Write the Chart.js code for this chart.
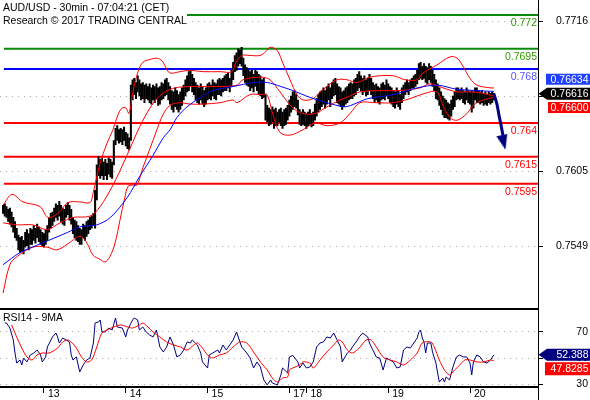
<!DOCTYPE html>
<html>
<head>
<meta charset="utf-8">
<script src="https://cdn.jsdelivr.net/npm/chart.js@4.4.1/dist/chart.umd.min.js"></script>
<style>
  body { margin: 0; background: #fff; width: 590px; height: 400px; overflow: hidden; position: relative; }
  #main { position: absolute; left: 0; top: 0; }
  #rsi { position: absolute; left: 0; top: 308px; }
</style>
</head>
<body>
<canvas id="main" width="590" height="309"></canvas>
<canvas id="rsi" width="590" height="92"></canvas>
<script>
const titleLines = ['AUD/USD - 30min - 07:04:21 (CET)', 'Research \u00a9 2017 TRADING CENTRAL'];
const rsiTitle = 'RSI14 - 9MA';

const dayTickIdx = [24, 72, 120, 168, 178, 226, 274];
const dayLabels = ['13', '14', '15', '17', '18', '19', '20'];
const priceTickVals = [0.754874, 0.760421, 0.765968, 0.771515];
const priceTickLabels = ['0.7549', '0.7605', '0.7661', '0.7716'];
const rsiTickVals = [30, 50, 70];
const rsiTickLabels = ['30', '50', '70'];

const levelVals = [0.772, 0.7695, 0.768, 0.764, 0.7615, 0.7595];
const levelLabels = ['0.772', '0.7695', '0.768', '0.764', '0.7615', '0.7595'];

// 30min bars, index 0 = first bar on screen
const barHigh = [
  0.7579,0.7580,0.7578,0.7576,0.7577,0.7574,0.7570,0.7567,0.7562,0.7557,0.7555,0.7556,
  0.7553,0.7559,0.7561,0.7558,0.7562,0.7561,0.7564,0.7562,0.7565,0.7563,0.7561,0.7559,
  0.7558,0.7561,0.7564,0.7570,0.7573,0.7574,0.7577,0.7580,0.7579,0.7582,0.7579,0.7577,
  0.7576,0.7579,0.7581,0.7579,0.7576,0.7570,0.7568,0.7567,0.7564,0.7562,0.7561,0.7565,
  0.7564,0.7567,0.7568,0.7570,0.7571,0.7573,0.7590,0.7609,0.7615,0.7613,0.7614,0.7611,
  0.7613,0.7610,0.7614,0.7613,0.7611,0.7627,0.7636,0.7638,0.7635,0.7636,0.7635,0.7637,
  0.7633,0.7632,0.7629,0.7668,0.7672,0.7673,0.7670,0.7675,0.7672,0.7669,0.7670,0.7668,
  0.7669,0.7667,0.7669,0.7666,0.7668,0.7667,0.7669,0.7666,0.7667,0.7670,0.7669,0.7672,
  0.7673,0.7670,0.7667,0.7664,0.7663,0.7666,0.7664,0.7661,0.7663,0.7666,0.7668,0.7672,
  0.7675,0.7678,0.7679,0.7676,0.7673,0.7670,0.7668,0.7666,0.7669,0.7667,0.7664,0.7666,
  0.7669,0.7670,0.7668,0.7672,0.7670,0.7669,0.7672,0.7673,0.7672,0.7673,0.7675,0.7676,
  0.7677,0.7673,0.7679,0.7685,0.7690,0.7692,0.7695,0.7694,0.7696,0.7688,0.7683,0.7681,
  0.7679,0.7678,0.7679,0.7676,0.7679,0.7678,0.7676,0.7675,0.7672,0.7673,0.7661,0.7653,
  0.7651,0.7650,0.7652,0.7650,0.7651,0.7648,0.7650,0.7651,0.7648,0.7650,0.7651,0.7653,
  0.7657,0.7660,0.7663,0.7664,0.7661,0.7657,0.7650,0.7648,0.7650,0.7648,0.7647,0.7648,
  0.7650,0.7647,0.7648,0.7654,0.7658,0.7661,0.7663,0.7664,0.7666,0.7664,0.7667,0.7669,
  0.7666,0.7670,0.7672,0.7673,0.7669,0.7667,0.7666,0.7663,0.7664,0.7666,0.7667,0.7669,
  0.7670,0.7669,0.7672,0.7673,0.7676,0.7678,0.7675,0.7673,0.7675,0.7672,0.7673,0.7676,
  0.7673,0.7670,0.7668,0.7669,0.7667,0.7666,0.7669,0.7670,0.7668,0.7672,0.7669,0.7667,
  0.7666,0.7664,0.7663,0.7666,0.7664,0.7661,0.7666,0.7668,0.7670,0.7672,0.7670,0.7672,
  0.7673,0.7675,0.7676,0.7679,0.7684,0.7685,0.7682,0.7684,0.7682,0.7681,0.7684,0.7682,
  0.7679,0.7676,0.7672,0.7669,0.7666,0.7663,0.7660,0.7658,0.7657,0.7655,0.7654,0.7657,
  0.7660,0.7663,0.7666,0.7666,0.7664,0.7666,0.7664,0.7663,0.7666,0.7664,0.7663,0.7664,
  0.7663,0.7666,0.7666,0.7664,0.7663,0.7664,0.7662,0.7663,0.7661,0.7663,0.7662,0.7663,0.7662
];
const barLow = [
  0.7573,0.7571,0.7570,0.7567,0.7565,0.7563,0.7559,0.7555,0.7553,0.7546,0.7544,0.7545,
  0.7543,0.7548,0.7549,0.7546,0.7550,0.7550,0.7553,0.7551,0.7555,0.7552,0.7550,0.7549,
  0.7548,0.7550,0.7553,0.7559,0.7562,0.7564,0.7567,0.7570,0.7568,0.7571,0.7567,0.7565,
  0.7564,0.7570,0.7572,0.7568,0.7565,0.7558,0.7555,0.7553,0.7552,0.7550,0.7550,0.7555,
  0.7553,0.7556,0.7558,0.7561,0.7562,0.7564,0.7562,0.7583,0.7601,0.7599,0.7601,0.7598,
  0.7601,0.7598,0.7602,0.7600,0.7599,0.7609,0.7624,0.7627,0.7625,0.7626,0.7624,0.7627,
  0.7623,0.7621,0.7620,0.7627,0.7657,0.7661,0.7658,0.7663,0.7660,0.7657,0.7658,0.7655,
  0.7658,0.7657,0.7655,0.7654,0.7657,0.7655,0.7658,0.7653,0.7654,0.7657,0.7658,0.7660,
  0.7661,0.7657,0.7654,0.7650,0.7648,0.7652,0.7650,0.7648,0.7650,0.7653,0.7657,0.7660,
  0.7663,0.7664,0.7667,0.7663,0.7661,0.7657,0.7655,0.7654,0.7657,0.7654,0.7652,0.7654,
  0.7657,0.7658,0.7657,0.7660,0.7658,0.7657,0.7661,0.7661,0.7660,0.7663,0.7664,0.7664,
  0.7666,0.7663,0.7667,0.7672,0.7678,0.7679,0.7682,0.7684,0.7682,0.7675,0.7670,0.7668,
  0.7667,0.7664,0.7666,0.7663,0.7667,0.7664,0.7661,0.7660,0.7658,0.7659,0.7642,0.7641,
  0.7638,0.7639,0.7641,0.7636,0.7638,0.7638,0.7641,0.7638,0.7636,0.7638,0.7639,0.7642,
  0.7645,0.7648,0.7650,0.7652,0.7651,0.7646,0.7639,0.7638,0.7639,0.7638,0.7636,0.7638,
  0.7639,0.7637,0.7638,0.7642,0.7645,0.7648,0.7650,0.7652,0.7654,0.7651,0.7654,0.7657,
  0.7652,0.7658,0.7660,0.7661,0.7655,0.7654,0.7652,0.7650,0.7652,0.7654,0.7655,0.7657,
  0.7658,0.7658,0.7660,0.7661,0.7664,0.7666,0.7664,0.7661,0.7663,0.7660,0.7661,0.7664,
  0.7661,0.7658,0.7655,0.7657,0.7655,0.7654,0.7657,0.7658,0.7657,0.7660,0.7658,0.7655,
  0.7654,0.7652,0.7651,0.7654,0.7652,0.7650,0.7655,0.7658,0.7661,0.7663,0.7661,0.7664,
  0.7666,0.7666,0.7667,0.7669,0.7672,0.7673,0.7672,0.7673,0.7670,0.7669,0.7672,0.7670,
  0.7667,0.7664,0.7658,0.7657,0.7653,0.7650,0.7646,0.7644,0.7644,0.7643,0.7642,0.7645,
  0.7650,0.7652,0.7657,0.7658,0.7657,0.7658,0.7655,0.7654,0.7657,0.7655,0.7654,0.7648,
  0.7651,0.7657,0.7655,0.7655,0.7654,0.7655,0.7653,0.7654,0.7653,0.7655,0.7654,0.7655,0.7657
];

// long moving average (blue)
const avgIdx = [0, 10, 23, 38, 45, 55, 63, 73, 80, 88, 94, 98, 102, 108, 116, 123, 135, 147, 155, 163, 170, 180, 190, 200, 204, 214, 229, 243, 255, 266, 278, 288];
const avgVal = [0.7535, 0.7544, 0.7551, 0.7559, 0.7563, 0.75645, 0.7570, 0.7585, 0.7600, 0.7616, 0.7629, 0.7635, 0.7644, 0.7652, 0.7659, 0.7664, 0.7667, 0.7670, 0.7670, 0.7667, 0.7664, 0.7659, 0.7655, 0.7652, 0.7653, 0.7658, 0.7661, 0.7666, 0.7668, 0.7665, 0.7664, 0.76634];

// Bollinger bands (red)
const bbUpIdx = [0, 5.2, 11.7, 21.7, 26.3, 32.2, 38.1, 45.1, 51, 52.8, 56.9, 61, 64.5, 67.4, 69.8, 72.1, 73.9, 76.2, 79.2, 82.1, 86.2, 90.3, 93.3, 95.6, 97.9, 103.8, 109.7, 117.3, 127.3, 134.3, 136.7, 140.2, 144.9, 150.8, 154.3, 156.6, 160.7, 164.3, 168.4, 172.5, 176, 181.9, 186, 190.1, 195.9, 201.8, 207.7, 215.3, 228.8, 235.9, 242.9, 246.4, 254.6, 262.3, 266.4, 269.9, 274, 278.1, 285.8, 288];
const bbUpVal = [0.7579, 0.7587, 0.75815, 0.7578, 0.7570, 0.7573, 0.7581, 0.75815, 0.7581, 0.7588, 0.7610, 0.7625, 0.7635, 0.7646, 0.7651, 0.7651, 0.7647, 0.7663, 0.7678, 0.7685, 0.7687, 0.7688, 0.7686, 0.7681, 0.7677, 0.7678, 0.7679, 0.7678, 0.7678, 0.7678, 0.7685, 0.7690, 0.7690, 0.7690, 0.7693, 0.7696, 0.7694, 0.7684, 0.7672, 0.7661, 0.7657, 0.7658, 0.7663, 0.7667, 0.7672, 0.7672, 0.7670, 0.7674, 0.7675, 0.7672, 0.7672, 0.7677, 0.7683, 0.7689, 0.7688, 0.7682, 0.7673, 0.7668, 0.7666, 0.7666];
const bbMidIdx = [0, 8.2, 17.5, 25.8, 33.4, 41, 51, 56.9, 64.5, 72.7, 78.6, 82.1, 86.2, 90.3, 95, 100.9, 109.7, 117.3, 127.3, 137.3, 140.8, 150.8, 156.6, 162.5, 170.1, 176, 183, 190.1, 197.7, 203.6, 209.4, 221.2, 232.9, 244.7, 250.5, 258.1, 266.4, 274, 281.7, 288];
const bbMidVal = [0.7566, 0.75645, 0.75645, 0.7561, 0.7566, 0.7570, 0.7571, 0.7578, 0.7594, 0.7616, 0.7633, 0.7642, 0.7651, 0.7658, 0.7663, 0.7666, 0.7667, 0.7667, 0.7667, 0.7668, 0.7672, 0.7674, 0.7672, 0.7663, 0.7651, 0.7647, 0.7647, 0.7652, 0.7657, 0.7660, 0.7663, 0.7664, 0.7664, 0.7666, 0.7669, 0.7666, 0.7663, 0.7663, 0.7662, 0.7660];
const bbLowIdx = [0, 4, 8.2, 17.5, 25.8, 31.6, 37.5, 45.1, 49.2, 52.8, 56.9, 59.8, 62.7, 65.7, 68.6, 71.5, 73.3, 76.2, 78.6, 82.1, 86.2, 90.3, 93.8, 97.9, 103.8, 109.7, 117.3, 127.3, 134.9, 137.3, 144.9, 151.9, 154.9, 158.4, 162.5, 168.4, 176, 183, 190.1, 197.7, 203.6, 209.4, 218.3, 228.8, 238.8, 247.6, 254.6, 258.1, 262.3, 266.4, 272.2, 275.8, 281.7, 288];
const bbLowVal = [0.7514, 0.7535, 0.7541, 0.7548, 0.7548, 0.7546, 0.7550, 0.7556, 0.7551, 0.7542, 0.7539, 0.7537, 0.7541, 0.7551, 0.7568, 0.7585, 0.7593, 0.7594, 0.7594, 0.7607, 0.7621, 0.7635, 0.7646, 0.7653, 0.7655, 0.7654, 0.7654, 0.7655, 0.7657, 0.7655, 0.7661, 0.7661, 0.7661, 0.7646, 0.7633, 0.7631, 0.7635, 0.7640, 0.7638, 0.7640, 0.7647, 0.7655, 0.7655, 0.7655, 0.7658, 0.7662, 0.7663, 0.7653, 0.7644, 0.7642, 0.7647, 0.7653, 0.7657, 0.7659];

// projection arrow
const arrowIdx = [288, 289.8, 291, 292.2, 293.3];
const arrowVal = [0.76616, 0.7654, 0.76458, 0.76384, 0.7631];
const arrowHeadIdx = 293.6;
const arrowHeadVal = 0.76255;

const lastClose = 0.76616;
const lastAvg = 0.76634;
const lastMid = 0.76600;

// RSI 14 and its 9 period average
const rsiIdx = [1,2,4,6,7,8,10,11,12,14,16,18,20,22,23,25,26,29,31,32,33,35,37,39,40,41,43,45,47,49,51,53,54,56,57,58,60,62,64,66,67,70,72,73,76,77,79,80,82,84,86,88,90,92,94,96,98,100,102,104,106,108,110,111,114,116,117,120,121,123,126,127,129,131,133,135,137,138,140,143,145,147,149,151,153,155,157,158,161,163,164,167,168,170,173,174,176,178,180,182,184,186,188,190,192,194,196,198,199,202,204,205,208,209,211,214,215,217,219,221,223,225,227,229,231,233,235,237,239,241,243,244,245,246,247,248,249,251,252,254,255,256,258,259,260,262,264,266,268,270,272,274,275,276,278,280,282,284,286,288];
const rsiVal = [76.6,76.6,72.8,63.7,53.8,46.2,48.5,44.7,50.0,47.0,52.3,53.8,56.1,52.3,47.0,50.8,58.4,66.0,69.0,66.0,61.4,65.2,63.7,62.2,52.3,48.5,50.8,39.4,44.7,48.5,50.0,61.4,76.6,77.4,78.9,69.8,69.8,72.8,71.3,80.4,73.6,72.8,66.0,71.3,78.9,80.4,78.9,71.3,73.6,69.8,67.5,66.0,71.3,58.4,54.6,58.4,66.0,59.9,50.8,52.3,56.1,62.2,61.4,63.7,59.9,53.8,47.0,42.4,52.3,53.8,56.1,53.8,59.9,56.1,59.9,63.7,69.8,66.0,58.4,53.8,50.0,42.4,47.0,43.2,33.3,29.5,33.3,31.0,29.5,37.1,42.4,38.6,50.8,52.0,47.0,42.4,46.2,42.4,43.2,47.0,58.4,61.4,62.2,66.0,65.2,69.0,63.7,58.4,47.0,53.8,56.1,58.4,63.7,66.0,69.0,66.0,61.4,56.1,50.8,50.0,40.9,50.0,48.5,47.0,42.4,43.2,56.1,58.4,57.6,61.4,65.2,69.8,71.3,65.2,62.2,53.8,61.4,61.4,54.6,46.2,38.6,31.7,34.8,31.7,35.6,33.3,43.2,50.8,52.3,50.8,50.8,46.2,37.1,47.0,52.3,50.8,47.0,46.2,48.5,52.388];
const rsiMaIdx = [5,8,11,14,17,20,23,27,32,35,38,40,43,46,49,52,55,58,61,65,69,73,76,80,82,85,88,92,96,100,104,108,112,114,117,120,123,127,131,135,139,143,147,151,155,158,161,164,167,168,170,174,176,180,182,186,190,194,197,199,202,205,209,213,216,219,223,227,231,235,239,243,246,251,253,256,259,262,265,268,271,274,278,282,286,288];
const rsiMaVal = [75.1,66.0,57.6,50.8,48.5,52.3,53.8,53.8,57.6,62.2,63.7,62.2,57.6,50.8,47.0,48.5,58.4,69.0,71.3,73.6,75.1,73.6,72.8,75.1,76.6,73.6,69.8,66.0,62.2,59.9,58.4,56.1,59.9,61.4,57.6,52.3,50.0,52.3,53.8,58.4,62.2,61.4,54.6,47.0,40.9,34.8,31.7,34.8,35.6,40.9,42.4,44.7,47.0,46.2,42.4,48.5,54.6,59.9,63.7,62.2,56.1,53.8,57.6,63.7,63.7,58.4,50.8,48.5,47.0,44.7,48.5,53.8,61.4,62.2,58.4,48.5,40.9,37.1,40.9,44.7,48.5,48.5,47.0,47.0,48.5,47.8285];

const FONT = '"Liberation Sans", Arial, sans-serif';
Chart.defaults.font.family = FONT;
Chart.defaults.font.size = 10.5;
Chart.defaults.color = '#000';

const X_MIN = -1.8, X_MAX = 313.9;
const levelLineColors = ['#0a8a0a', '#0a8a0a', '#0000ff', '#ff0000', '#ff0000', '#ff0000'];
const levelTextColors = ['#2f9a00', '#2f9a00', '#5555ff', '#ff0000', '#ff0000', '#ff0000'];
// y tick labels must not push the plot area in, so give them a tiny line height
const yTickFont = { size: 10.5, lineHeight: 0.05 };

const pts = (xs, ys) => xs.map((x, k) => ({ x: x, y: ys[k] }));

function drawTag(ctx, cy, h, color, text, arrow, left) {
  ctx.fillStyle = color;
  ctx.beginPath();
  if (arrow) {
    ctx.moveTo(538.5, cy);
    ctx.lineTo(547, cy - h / 2);
    ctx.lineTo(590, cy - h / 2);
    ctx.lineTo(590, cy + h / 2);
    ctx.lineTo(547, cy + h / 2);
    ctx.closePath();
  } else {
    ctx.rect(left, cy - h / 2, 590 - left, h);
  }
  ctx.fill();
  ctx.fillStyle = '#fff';
  ctx.textAlign = 'right';
  ctx.textBaseline = 'middle';
  ctx.font = '10.5px ' + FONT;
  ctx.fillText(text, 588.5, cy + 0.5);
}

const mainOverlay = {
  id: 'mainOverlay',
  afterDraw(chart) {
    const { ctx, chartArea } = chart;
    const y = chart.scales.y;
    ctx.save();
    // title block
    ctx.fillStyle = '#fff';
    ctx.fillRect(0, 0, 187, 27);
    ctx.fillStyle = '#000';
    ctx.font = '10.5px ' + FONT;
    ctx.textAlign = 'left';
    ctx.textBaseline = 'alphabetic';
    ctx.fillText(titleLines[0], 3, 10.5);
    ctx.fillText(titleLines[1], 3, 24);
    // level labels
    ctx.textAlign = 'right';
    ctx.textBaseline = 'top';
    levelVals.forEach((v, k) => {
      ctx.fillStyle = levelTextColors[k];
      ctx.fillText(levelLabels[k], chartArea.right - 1, y.getPixelForValue(v) + 3);
    });
    // right axis price tags
    const yc = y.getPixelForValue(lastClose);
    drawTag(ctx, yc - 14.5, 11, '#1f3fff', lastAvg.toFixed(5), false, 546);
    drawTag(ctx, yc + 13.8, 11, '#ff0000', lastMid.toFixed(5), false, 548);
    drawTag(ctx, yc, 12, '#000', lastClose.toFixed(5), true);
    ctx.restore();
  }
};

const rsiOverlay = {
  id: 'rsiOverlay',
  afterDraw(chart) {
    const { ctx, chartArea } = chart;
    const y = chart.scales.y;
    ctx.save();
    ctx.strokeStyle = '#000';
    ctx.lineWidth = 2;
    ctx.beginPath();
    ctx.moveTo(0, 1);
    ctx.lineTo(chartArea.right, 1);
    ctx.stroke();
    ctx.lineWidth = 1;
    ctx.beginPath();
    ctx.moveTo(chartArea.right + 0.5, chartArea.bottom);
    ctx.lineTo(chartArea.right + 0.5, chart.height);
    ctx.stroke();
    ctx.fillStyle = '#000';
    ctx.font = '10.5px ' + FONT;
    ctx.textAlign = 'left';
    ctx.textBaseline = 'alphabetic';
    ctx.fillText(rsiTitle, 3, 12.7);
    const yr = y.getPixelForValue(rsiVal[rsiVal.length - 1]);
    drawTag(ctx, yr + 14, 13, '#ff0000', String(rsiMaVal[rsiMaVal.length - 1]), false, 545);
    drawTag(ctx, yr, 12, '#000080', String(rsiVal[rsiVal.length - 1]), true);
    ctx.restore();
  }
};

// arrow head glyph
const head = document.createElement('canvas');
head.width = 11; head.height = 15;
(function () {
  const c = head.getContext('2d');
  c.fillStyle = '#000080';
  c.beginPath();
  c.moveTo(0, 0); c.lineTo(11, 0); c.lineTo(6, 15); c.closePath();
  c.fill();
})();

const band = (xs, ys) => ({
  data: pts(xs, ys), borderColor: '#ff0000', borderWidth: 1, pointRadius: 0, tension: 0.35, order: 3
});

new Chart(document.getElementById('main'), {
  type: 'line',
  data: {
    datasets: [
      ...levelVals.map((v, k) => ({
        data: [{ x: 0.5, y: v }, { x: X_MAX, y: v }],
        borderColor: levelLineColors[k], borderWidth: 2, pointRadius: 0, order: 10
      })),
      {
        type: 'bar',
        data: barHigh.map((h, i) => ({ x: i, y: [barLow[i], h] })),
        backgroundColor: '#000', borderWidth: 0, barThickness: 1.4, order: 5
      },
      band(bbUpIdx, bbUpVal),
      band(bbMidIdx, bbMidVal),
      band(bbLowIdx, bbLowVal),
      {
        data: pts(avgIdx, avgVal),
        borderColor: '#0000ff', borderWidth: 1, pointRadius: 0, tension: 0.3, order: 2
      },
      {
        data: pts(arrowIdx, arrowVal),
        borderColor: '#000080', borderWidth: 3, pointRadius: 0, tension: 0.3, order: 1
      },
      {
        type: 'scatter',
        data: [{ x: arrowHeadIdx, y: arrowHeadVal }],
        pointStyle: head, rotation: -12, order: 0
      }
    ]
  },
  options: {
    responsive: false,
    animation: false,
    events: [],
    layout: { autoPadding: false, padding: { left: 0, right: 2, top: 0, bottom: 0 } },
    plugins: { legend: { display: false }, tooltip: { enabled: false } },
    scales: {
      x: { type: 'linear', display: false, min: X_MIN, max: X_MAX, offset: false, grid: { offset: false } },
      y: {
        position: 'right', min: 0.750236, max: 0.77309,
        afterFit: s => { s.width = 50; },
        afterBuildTicks: s => { s.ticks = priceTickVals.map(v => ({ value: v })); },
        ticks: { callback: (v, i) => priceTickLabels[i], crossAlign: 'far', padding: 0, autoSkip: false, font: yTickFont },
        grid: { color: '#aaaaaa', lineWidth: 1, drawTicks: true, tickLength: 5, tickColor: '#000', tickBorderDash: [] },
        border: { display: true, color: '#000', width: 1, dash: [1, 5] }
      }
    }
  },
  plugins: [mainOverlay]
});

new Chart(document.getElementById('rsi'), {
  type: 'line',
  data: {
    datasets: [
      { data: pts(rsiMaIdx, rsiMaVal), borderColor: '#ff0000', borderWidth: 1, pointRadius: 0, tension: 0.3 },
      { data: pts(rsiIdx, rsiVal), borderColor: '#000080', borderWidth: 1, pointRadius: 0 }
    ]
  },
  options: {
    responsive: false,
    animation: false,
    events: [],
    layout: { autoPadding: false, padding: { left: 0, right: 2, top: 1, bottom: 0 } },
    plugins: { legend: { display: false }, tooltip: { enabled: false } },
    scales: {
      x: {
        type: 'linear', min: X_MIN, max: X_MAX, offset: false,
        afterFit: s => { s.height = 13; },
        afterBuildTicks: s => { s.ticks = dayTickIdx.map(v => ({ value: v })); },
        ticks: { callback: (v, i) => dayLabels[i], align: 'start', labelOffset: 4, padding: -5, maxRotation: 0, autoSkip: false },
        grid: { drawOnChartArea: false, drawTicks: true, tickLength: 6, tickColor: '#000', offset: false },
        border: { display: true, color: '#000', width: 2 }
      },
      y: {
        position: 'right', min: 27.95, max: 87.26,
        afterFit: s => { s.width = 50; },
        afterBuildTicks: s => { s.ticks = rsiTickVals.map(v => ({ value: v })); },
        ticks: { callback: (v, i) => rsiTickLabels[i], crossAlign: 'far', padding: 0, autoSkip: false, font: yTickFont },
        grid: { color: '#aaaaaa', lineWidth: 1, drawTicks: true, tickLength: 5, tickColor: '#000', tickBorderDash: [] },
        border: { display: true, color: '#000', width: 1, dash: [1, 5] }
      }
    }
  },
  plugins: [rsiOverlay]
});
</script>
</body>
</html>
